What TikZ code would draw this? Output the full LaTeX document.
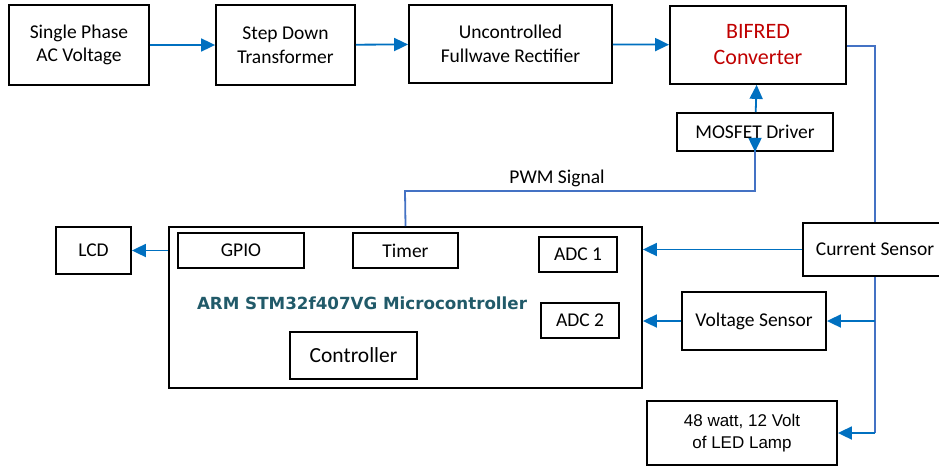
\documentclass[tikz,border=0pt]{standalone}
\usepackage{fontspec}
\setmainfont{Carlito}
\newfontfamily\lampfont{Liberation Sans}
\newfontfamily\titlefont{DejaVu Sans}
\usetikzlibrary{arrows.meta}
\definecolor{arrblue}{HTML}{0070C0}
\definecolor{lineblue}{HTML}{4472C4}
\definecolor{bifredred}{HTML}{C00000}
\definecolor{mcuteal}{HTML}{215A69}

\begin{document}
\begin{tikzpicture}[
    x=1pt, y=-1pt,
    box/.style={draw, line width=1.8pt, inner sep=0pt, align=center, font=\fontsize{19.5}{23.5}\selectfont},
    arr/.style={-{Triangle[length=14pt,width=13pt]}, line width=1.8pt, arrblue},
    wire/.style={line width=1.8pt, lineblue}
]
    \clip (0,0) rectangle (939,466);

    % 1. Top row (power path)
    \node[box, minimum width=140pt, minimum height=80pt] (ac) at (79,45) {Single Phase\\AC Voltage};
    \node[box, minimum width=139pt, minimum height=80pt] (trans) at (285.5,45) {Step Down\\Transformer};
    \node[box, minimum width=203pt, minimum height=78pt] (rect) at (510.5,44) {Uncontrolled\\Fullwave Rectifier};
    \node[box, minimum width=176pt, minimum height=78pt, text=bifredred, font=\fontsize{22}{26}\selectfont] (bifred) at (758,45) {BIFRED\\Converter};
    \node[box, minimum width=156pt, minimum height=38pt] (driver) at (755,132) {MOSFET Driver};

    % 2. Microcontroller and its blocks
    \node[box, minimum width=473pt, minimum height=161pt] (mcu) at (405.5,307.5) {};
    \node[box, minimum width=126pt, minimum height=35pt] (gpio) at (241,250.5) {GPIO};
    \node[box, minimum width=105pt, minimum height=35pt] (timer) at (405.5,250.5) {Timer};
    \node[box, minimum width=78pt, minimum height=35pt] (adc1) at (578,254.5) {ADC 1};
    \node[box, minimum width=78pt, minimum height=35pt] (adc2) at (580,320.5) {ADC 2};
    \node[box, minimum width=127pt, minimum height=47pt, font=\fontsize{21.5}{25}\selectfont] (ctrl) at (353.5,355.5) {Controller};
    \node[text=mcuteal, font=\titlefont\bfseries\fontsize{16.7}{19}\selectfont] (title) at (362,303) {ARM STM32f407VG Microcontroller};

    % 3. Display, sensors and load
    \node[box, minimum width=75pt, minimum height=47pt] (lcd) at (93.5,250.5) {LCD};
    \node[box, minimum width=144pt, minimum height=53pt] (cur) at (875,249.5) {Current Sensor};
    \node[box, minimum width=144pt, minimum height=58pt] (volt) at (754,321) {Voltage Sensor};
    \node[box, minimum width=190pt, minimum height=64pt, font=\lampfont\fontsize{17}{22}\selectfont] (lamp) at (742,433) {48 watt, 12 Volt\\of LED Lamp};

    \coordinate (pwm) at (405,191);

    % Arrows
    \draw[arr] (ac) -- (trans);
    \draw[arr] (trans) -- (rect);
    \draw[arr] (rect) -- (bifred);
    \draw[arr] (driver) -- (bifred);

    % PWM path from timer up to the driver
    \draw[wire] (timer |- mcu.north) -- (pwm) -| ([yshift=14pt]driver.south);
    \draw[arr] ([yshift=14pt]driver.south) -- (driver.south);
    \node[font=\fontsize{19.5}{23}\selectfont] (pwmlbl) at (557,178) {PWM Signal};

    % Feedback side
    \draw[wire] (bifred.east |- 0,46) -| (cur.north);
    \draw[wire] (cur.south) -- (cur.south |- lamp.east);
    \draw[arr] (cur.south |- lamp.east) -- (lamp.east);
    \draw[arr] (cur.south |- volt.east) -- (volt.east);
    \draw[arr] (cur.west) -- (cur.west -| mcu.east);
    \draw[arr] (volt.west) -- (volt.west -| mcu.east);
    \draw[arr] (lcd.east -| mcu.west) -- (lcd.east);

\end{tikzpicture}
\end{document}
